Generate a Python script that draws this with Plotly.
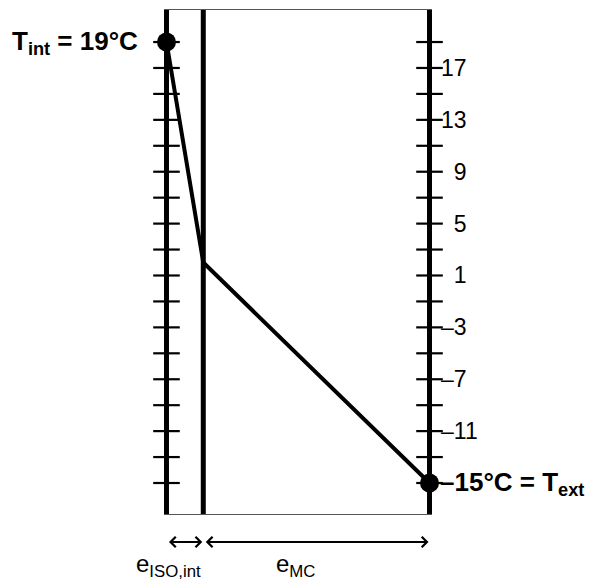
import plotly.graph_objects as go

# Data
layer_names = ["ISO,int", "MC"]
layer_thickness = [1.0, 6.15]          # relative thicknesses (insulation, masonry)
interface_temps = [19, 2, -15]         # T_int, interface, T_ext (°C)
tick_values = [19, 17, 15, 13, 11, 9, 7, 5, 3, 1, -1, -3, -5, -7, -9, -11, -13, -15]
label_values = [17, 13, 9, 5, 1, -3, -7, -11]

x_pos = [0.0]
for t in layer_thickness:
    x_pos.append(x_pos[-1] + t)
total = x_pos[-1]

FONT = "Liberation Sans, Arial, sans-serif"
Y_LO, Y_HI = -17.39, 21.47
WALL_W = 5
PX_PER_UNIT = 264 / total
PAD = (WALL_W / 2) / PX_PER_UNIT

fig = go.Figure()

# walls
for xw in x_pos:
    fig.add_trace(go.Scatter(x=[xw, xw], y=[Y_LO, Y_HI], mode="lines",
                             line=dict(color="black", width=WALL_W),
                             hoverinfo="skip", showlegend=False))

# tick marks crossing the outer walls
fig.add_trace(go.Scatter(
    x=[x_pos[0]] * len(tick_values) + [total] * len(tick_values),
    y=tick_values + tick_values, mode="markers",
    marker=dict(symbol="line-ew", size=19, line=dict(color="black", width=2.2)),
    cliponaxis=False, hoverinfo="skip", showlegend=False))

# temperature profile
fig.add_trace(go.Scatter(x=x_pos, y=interface_temps, mode="lines",
                         line=dict(color="black", width=4),
                         cliponaxis=False, showlegend=False))
fig.add_trace(go.Scatter(x=[x_pos[0], total], y=[interface_temps[0], interface_temps[-1]],
                         mode="markers", marker=dict(color="black", size=19),
                         cliponaxis=False, showlegend=False))

def fmt(v):
    if v < 0:
        return "\u2013" + str(abs(v))
    s = str(v)
    return ("\u2007" + s) if len(s) == 1 else s

annotations = []
for v in label_values:
    annotations.append(dict(x=total, y=v, xref="x", yref="y", text=fmt(v),
                            showarrow=False, xanchor="left", yanchor="middle",
                            xshift=9, font=dict(family=FONT, size=23, color="black")))

annotations.append(dict(x=x_pos[0], y=interface_temps[0], xref="x", yref="y",
                        text="<b>T<sub>int</sub> = %d°C</b>" % interface_temps[0],
                        showarrow=False, xanchor="right", yanchor="middle", xshift=-26,
                        font=dict(family=FONT, size=26, color="black")))
annotations.append(dict(x=total, y=interface_temps[-1], xref="x", yref="y",
                        text="<b>\u2013%d°C = T<sub>ext</sub></b>" % abs(interface_temps[-1]),
                        showarrow=False, xanchor="left", yanchor="middle", xshift=8,
                        font=dict(family=FONT, size=26, color="black")))

# dimension arrows and labels
ARROW_Y = -0.0556
LABEL_Y = -0.103
label_shift = [2, -21]
for i, name in enumerate(layer_names):
    x0, x1 = x_pos[i], x_pos[i + 1]
    annotations.append(dict(x=x1, y=ARROW_Y, xref="x", yref="paper",
                            ax=x0, ay=0, axref="x", ayref="pixel",
                            showarrow=True, text="", arrowside="end+start",
                            arrowhead=4, startarrowhead=4, arrowsize=1, startarrowsize=1,
                            arrowwidth=2, arrowcolor="black", standoff=1, startstandoff=1))
    annotations.append(dict(x=(x0 + x1) / 2 if i else x0, y=LABEL_Y, xref="x", yref="paper",
                            text="e<sub>%s</sub>" % name, showarrow=False,
                            xanchor="center", yanchor="middle", xshift=label_shift[i],
                            font=dict(family=FONT, size=24, color="black")))

# page body has an 8px margin; figure occupies 8..595 x 8..581
fig.update_layout(
    width=587, height=573,
    margin=dict(l=155.5, r=162.5, t=2, b=67),
    paper_bgcolor="white", plot_bgcolor="white",
    xaxis=dict(range=[-PAD, total + PAD], showgrid=False, zeroline=False, showticklabels=False,
               ticks="", showline=True, linecolor="#555555", linewidth=1, mirror=True),
    yaxis=dict(range=[Y_LO, Y_HI], showgrid=False, zeroline=False, showticklabels=False,
               ticks="", showline=False),
    annotations=annotations,
    showlegend=False,
)

fig.write_html("out.html")
